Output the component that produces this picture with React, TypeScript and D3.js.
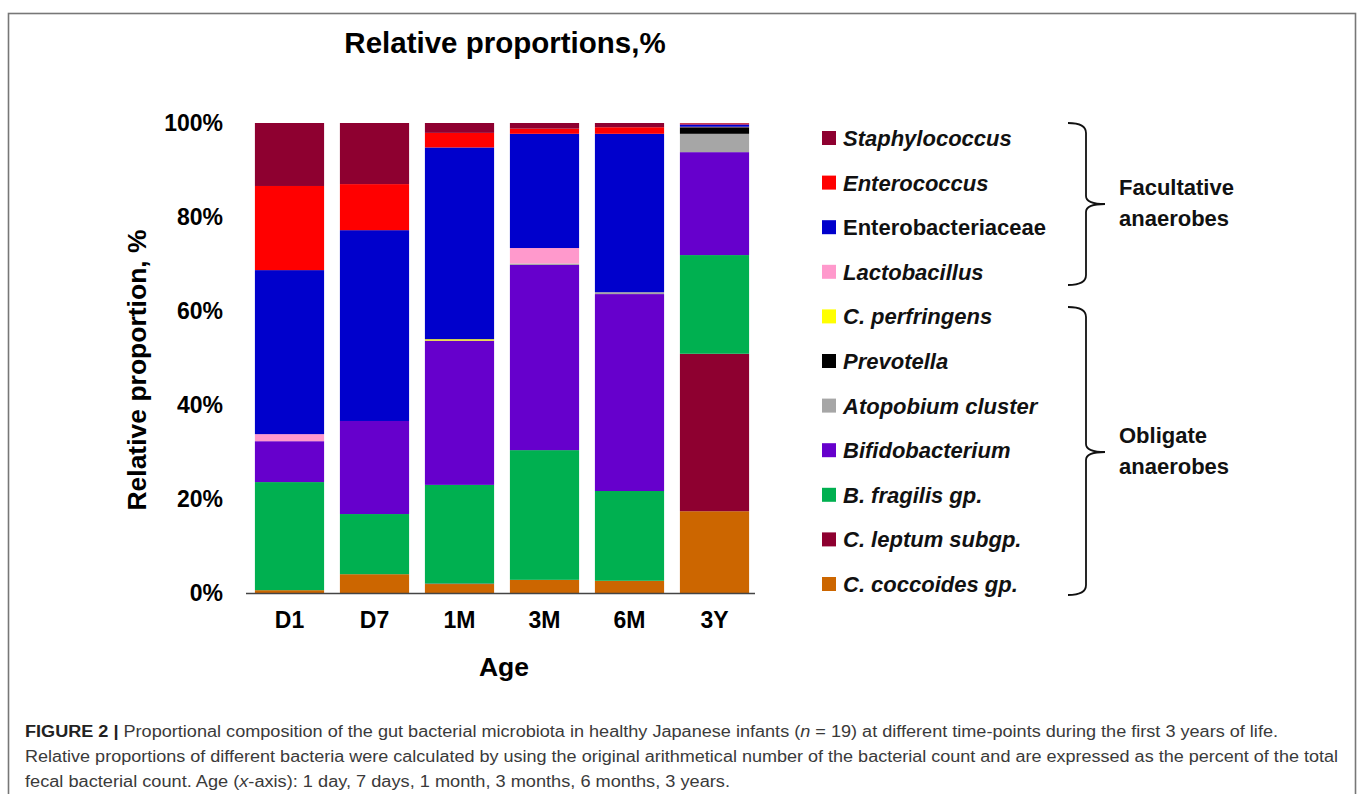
import { useEffect, useRef } from "react";
import * as d3 from "d3";

const ages = ["D1", "D7", "1M", "3M", "6M", "3Y"];

// legend order (top to bottom); stacks are drawn in reverse (bottom up)
const taxa = [
  "Staphylococcus",
  "Enterococcus",
  "Enterobacteriaceae",
  "Lactobacillus",
  "C. perfringens",
  "Prevotella",
  "Atopobium cluster",
  "Bifidobacterium",
  "B. fragilis gp.",
  "C. leptum subgp.",
  "C. coccoides gp.",
];
const italicTaxa = taxa.filter((t) => t !== "Enterobacteriaceae");
const colors = [
  "#8e0030", "#ff0000", "#0000cc", "#ff99cc", "#ffff00", "#000000",
  "#a6a6a6", "#6600cc", "#00b050", "#8e0030", "#cc6600",
];

// percent per age, D1 .. 3Y
const staphylococcus = [13.4, 13.0, 2.1, 1.2, 0.9, 0.1];
const enterococcus = [17.9, 9.8, 3.1, 1.1, 1.4, 0.2];
const enterobacteriaceae = [34.9, 40.6, 40.8, 24.3, 33.7, 0.5];
const lactobacillus = [1.5, 0, 0, 3.3, 0, 0.1];
const perfringens = [0, 0, 0.3, 0, 0, 0];
const prevotella = [0, 0, 0, 0, 0, 1.4];
const atopobium = [0, 0, 0, 0.3, 0.4, 3.9];
const bifidobacterium = [8.7, 19.8, 30.7, 39.4, 41.9, 21.9];
const fragilis = [23.0, 12.8, 21.0, 27.6, 19.1, 21.0];
const leptum = [0, 0, 0.1, 0, 0, 33.5];
const coccoides = [0.6, 4.0, 1.9, 2.8, 2.6, 17.4];

const series = [
  staphylococcus, enterococcus, enterobacteriaceae, lactobacillus, perfringens,
  prevotella, atopobium, bifidobacterium, fragilis, leptum, coccoides,
];

const yTicks = [0, 20, 40, 60, 80, 100];

function brace(x: number, y0: number, y1: number, tipY: number) {
  const xl = x + 18;
  const xt = x + 37;
  return `M${x},${y0} Q${xl},${y0} ${xl},${y0 + 10} L${xl},${tipY - 8} Q${xl},${tipY} ${xt},${tipY}
    Q${xl},${tipY} ${xl},${tipY + 8} L${xl},${y1 - 10} Q${xl},${y1} ${x},${y1}`;
}

export default function App() {
  const svgRef = useRef<SVGSVGElement | null>(null);

  useEffect(() => {
    const width = 1358;
    const height = 794;
    const svg = d3.select(svgRef.current);
    svg.selectAll("*").remove();
    svg.attr("width", width).attr("height", height).attr("viewBox", `0 0 ${width} ${height}`);

    const font = "'Liberation Sans', Arial, sans-serif";

    svg.append("rect")
      .attr("x", 8.5).attr("y", 13.5)
      .attr("width", 1347).attr("height", 800)
      .attr("fill", "white").attr("stroke", "#777").attr("stroke-width", 1.6);

    const x = d3.scaleBand<string>()
      .domain(ages)
      .range([247, 757])
      .paddingInner(0.186)
      .paddingOuter(0.093);

    const y = d3.scaleLinear().domain([0, 100]).range([593, 123]);

    const rows = ages.map((age, i) => {
      const row: Record<string, any> = { age };
      taxa.forEach((t, j) => (row[t] = series[j][i]));
      return row;
    });

    const keys = taxa.slice().reverse();
    const stacked = d3.stack<any>().keys(keys)(rows);

    svg.append("g")
      .selectAll("g")
      .data(stacked)
      .join("g")
      .attr("fill", (d) => colors[taxa.indexOf(d.key)])
      .selectAll("rect")
      .data((d) => d)
      .join("rect")
      .attr("x", (d) => x(d.data.age)!)
      .attr("width", x.bandwidth())
      .attr("y", (d) => y(d[1]))
      .attr("height", (d) => Math.max(0, y(d[0]) - y(d[1])));

    // x baseline
    svg.append("line")
      .attr("x1", 246).attr("x2", 755)
      .attr("y1", y(0) + 0.5).attr("y2", y(0) + 0.5)
      .attr("stroke", "#444").attr("stroke-width", 1.5);

    svg.append("g")
      .selectAll("text")
      .data(yTicks)
      .join("text")
      .attr("x", 223)
      .attr("y", (d) => y(d))
      .attr("dy", "0.36em")
      .attr("text-anchor", "end")
      .style("font-family", font)
      .style("font-weight", "bold")
      .style("font-size", "23px")
      .text((d) => `${d}%`);

    svg.append("g")
      .selectAll("text")
      .data(ages)
      .join("text")
      .attr("x", (d) => x(d)! + x.bandwidth() / 2)
      .attr("y", 628)
      .attr("text-anchor", "middle")
      .style("font-family", font)
      .style("font-weight", "bold")
      .style("font-size", "23px")
      .text((d) => d);

    svg.append("text")
      .attr("x", 504).attr("y", 676)
      .attr("text-anchor", "middle")
      .style("font-family", font).style("font-weight", "bold").style("font-size", "26.5px")
      .text("Age");

    svg.append("text")
      .attr("transform", `translate(146,370) rotate(-90)`)
      .attr("text-anchor", "middle")
      .style("font-family", font).style("font-weight", "bold").style("font-size", "26.5px")
      .text("Relative proportion, %");

    svg.append("text")
      .attr("x", 505).attr("y", 53)
      .attr("text-anchor", "middle")
      .style("font-family", font).style("font-weight", "bold").style("font-size", "29.5px")
      .text("Relative proportions,%");

    // legend
    const legend = svg.append("g").attr("transform", "translate(822,138)");
    taxa.forEach((t, i) => {
      const row = legend.append("g").attr("transform", `translate(0,${i * 44.6})`);
      row.append("rect")
        .attr("x", 0).attr("y", -7)
        .attr("width", 14).attr("height", 14)
        .attr("fill", colors[i]);
      row.append("text")
        .attr("x", 21).attr("y", 0).attr("dy", "0.36em")
        .style("font-family", font)
        .style("font-weight", "bold")
        .style("font-style", italicTaxa.includes(t) ? "italic" : "normal")
        .style("font-size", "22px")
        .attr("fill", "#111")
        .text(t);
    });

    // braces
    svg.append("path")
      .attr("d", brace(1068, 123, 285, 204))
      .attr("fill", "none").attr("stroke", "#111").attr("stroke-width", 1.8);
    svg.append("path")
      .attr("d", brace(1068, 307, 595, 452))
      .attr("fill", "none").attr("stroke", "#111").attr("stroke-width", 1.8);

    const groups = [
      { lines: ["Facultative", "anaerobes"], y: 187 },
      { lines: ["Obligate", "anaerobes"], y: 435 },
    ];
    groups.forEach((g) => {
      g.lines.forEach((l, i) => {
        svg.append("text")
          .attr("x", 1119).attr("y", g.y + i * 31).attr("dy", "0.36em")
          .style("font-family", font).style("font-weight", "bold").style("font-size", "22px")
          .attr("fill", "#111")
          .text(l);
      });
    });

    // caption
    const cap = svg.append("g")
      .style("font-family", font).style("font-size", "16px").attr("fill", "#3a3a3a");

    const l1 = cap.append("text").attr("x", 25).attr("y", 737).attr("textLength", 1253).attr("lengthAdjust", "spacingAndGlyphs");
    l1.append("tspan").style("font-weight", "bold").attr("fill", "#222").text("FIGURE 2 | ");
    l1.append("tspan").text("Proportional composition of the gut bacterial microbiota in healthy Japanese infants (");
    l1.append("tspan").style("font-style", "italic").text("n");
    l1.append("tspan").text(" = 19) at different time-points during the first 3 years of life.");

    cap.append("text").attr("x", 25).attr("y", 762).attr("textLength", 1313).attr("lengthAdjust", "spacingAndGlyphs")
      .text("Relative proportions of different bacteria were calculated by using the original arithmetical number of the bacterial count and are expressed as the percent of the total");

    const l3 = cap.append("text").attr("x", 25).attr("y", 787).attr("textLength", 705).attr("lengthAdjust", "spacingAndGlyphs");
    l3.append("tspan").text("fecal bacterial count. Age (");
    l3.append("tspan").style("font-style", "italic").text("x");
    l3.append("tspan").text("-axis): 1 day, 7 days, 1 month, 3 months, 6 months, 3 years.");
  }, []);

  return (
    <div style={{ position: "absolute", left: 0, top: 0, background: "white" }}>
      <svg ref={svgRef} style={{ display: "block" }} />
    </div>
  );
}
